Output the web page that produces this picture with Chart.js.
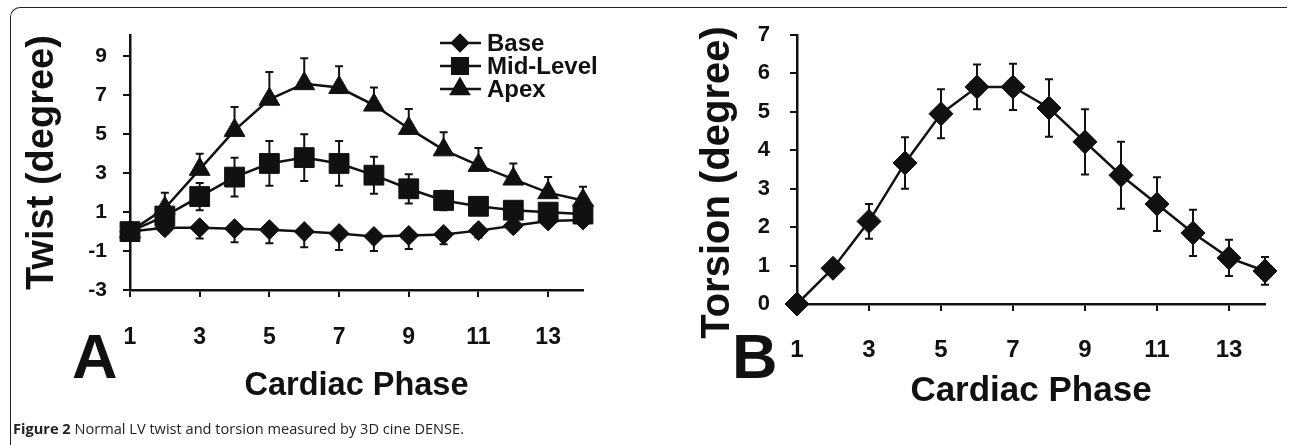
<!DOCTYPE html>
<html>
<head>
<meta charset="utf-8">
<script src="https://cdn.jsdelivr.net/npm/chart.js@4"></script>
<style>
  body { margin: 0; background: #fff; }
  #page { position: relative; width: 1290px; height: 445px; overflow: hidden; background: #fff; }
  .frame { position: absolute; left: 10px; top: 7px; width: 1276px; height: 460px;
           border-top: 1.5px solid #222; border-left: 1.5px solid #222; border-top-left-radius: 10px; }
  .panel { position: absolute; top: 0; width: 640px; height: 420px; }
  .letter { position: absolute; font: bold 63px "Liberation Sans", Arial, sans-serif; line-height: 1; color: #111; }
  .caption { position: absolute; left: 13px; top: 418px; font: 14.6px "Open Sans", sans-serif; color: #222; white-space: nowrap; }
</style>
</head>
<body>
<div id="page">
  <div class="frame"></div>
  <div class="panel" style="left:0"><canvas id="twistChart" width="640" height="420"></canvas></div>
  <div class="panel" style="left:650px"><canvas id="torsionChart" width="640" height="420"></canvas></div>
  <div class="letter" style="left:72px;top:325px">A</div>
  <div class="letter" style="left:732px;top:325px">B</div>
  <div class="caption"><b>Figure 2</b> Normal LV twist and torsion measured by 3D cine DENSE.</div>
</div>
<script>
// cardiac phases 1..14
const phases = [1, 2, 3, 4, 5, 6, 7, 8, 9, 10, 11, 12, 13, 14];
const phaseTicks = [1, 3, 5, 7, 9, 11, 13];
const twistTicks = [-3, -1, 1, 3, 5, 7, 9];
const torsionTicks = [0, 1, 2, 3, 4, 5, 6, 7];

// panel A - twist (degree)
const baseTwist = [0, 0.2, 0.2, 0.15, 0.1, 0, -0.1, -0.25, -0.2, -0.15, 0.05, 0.3, 0.55, 0.6];
const baseSD = [0, 0.3, 0.55, 0.7, 0.7, 0.8, 0.85, 0.75, 0.7, 0.5, 0.35, 0.3, 0.3, 0.3];
const midTwist = [0, 0.8, 1.8, 2.8, 3.5, 3.8, 3.5, 2.9, 2.2, 1.6, 1.3, 1.1, 1.0, 0.9];
const midSD = [0, 0.5, 0.7, 1.0, 1.15, 1.2, 1.15, 0.95, 0.75, 0.5, 0.4, 0.35, 0.3, 0.3];
const apexTwist = [0, 1.2, 3.2, 5.2, 6.8, 7.6, 7.4, 6.5, 5.3, 4.2, 3.4, 2.7, 2.0, 1.6];
const apexSD = [0, 0.8, 0.8, 1.2, 1.4, 1.3, 1.1, 0.9, 1.0, 0.9, 0.9, 0.8, 0.8, 0.7];

// panel B - torsion (degree)
const torsion = [0, 0.93, 2.15, 3.67, 4.95, 5.65, 5.65, 5.1, 4.22, 3.35, 2.6, 1.85, 1.2, 0.86];
const torsionSD = [0, 0.15, 0.45, 0.67, 0.64, 0.58, 0.6, 0.75, 0.85, 0.87, 0.7, 0.6, 0.47, 0.36];
const torsionTitle = 'Torsion (degree)';

const ink = '#111';
Chart.defaults.font.family = '"Liberation Sans", Arial, sans-serif';
Chart.defaults.font.weight = 'bold';
Chart.defaults.color = ink;

function toXY(vals) {
    return vals.map((v, i) => ({ x: phases[i], y: v }));
}

// error bars: up / down arrays per dataset
const errorBars = {
    id: 'errorBars',
    beforeDatasetsDraw(chart) {
        const ctx = chart.ctx;
        const yScale = chart.scales.y;
        ctx.save();
        ctx.strokeStyle = ink;
        ctx.lineWidth = 2;
        chart.data.datasets.forEach((ds, di) => {
            const meta = chart.getDatasetMeta(di);
            meta.data.forEach((pt, j) => {
                const v = ds.data[j].y;
                const up = ds.errUp ? ds.errUp[j] : 0;
                const dn = ds.errDown ? ds.errDown[j] : 0;
                if (!up && !dn) return;
                const yt = yScale.getPixelForValue(v + up);
                const yb = yScale.getPixelForValue(v - dn);
                ctx.beginPath();
                ctx.moveTo(pt.x, yt);
                ctx.lineTo(pt.x, yb);
                if (up) { ctx.moveTo(pt.x - 4, yt); ctx.lineTo(pt.x + 4, yt); }
                if (dn) { ctx.moveTo(pt.x - 4, yb); ctx.lineTo(pt.x + 4, yb); }
                ctx.stroke();
            });
        });
        ctx.restore();
    }
};

// legend drawn inside panel A
const twistLegend = {
    id: 'twistLegend',
    afterDraw(chart) {
        const ctx = chart.ctx;
        const rows = [
            { label: 'Base', style: 'rectRot', r: 8, y: 43 },
            { label: 'Mid-Level', style: 'rect', r: 11, y: 66 },
            { label: 'Apex', style: 'triangle', r: 10, y: 89 }
        ];
        ctx.save();
        ctx.font = 'bold 24px "Liberation Sans", Arial, sans-serif';
        ctx.textBaseline = 'middle';
        ctx.fillStyle = ink;
        ctx.strokeStyle = ink;
        rows.forEach(r => {
            ctx.lineWidth = 2.5;
            ctx.beginPath();
            ctx.moveTo(440, r.y);
            ctx.lineTo(481, r.y);
            ctx.stroke();
            Chart.helpers.drawPoint(ctx, { pointStyle: r.style, radius: r.r, borderWidth: 1 }, 460, r.y);
            ctx.fill();
            ctx.fillText(r.label, 487, r.y + 1);
        });
        ctx.restore();
    }
};

// y title of panel B sits a bit below the axis centre in the original
const torsionYTitle = {
    id: 'torsionYTitle',
    afterDraw(chart) {
        const ctx = chart.ctx;
        const yScale = chart.scales.y;
        ctx.save();
        ctx.translate(68, (yScale.top + yScale.bottom) / 2 + 13);
        ctx.rotate(-Math.PI / 2);
        ctx.font = 'bold 40px "Liberation Sans", Arial, sans-serif';
        ctx.textAlign = 'center';
        ctx.textBaseline = 'middle';
        ctx.fillStyle = ink;
        ctx.fillText(torsionTitle, 0, 0);
        ctx.restore();
    }
};

function axisGrid() {
    return { drawOnChartArea: false, drawTicks: true, tickLength: 7, color: ink, lineWidth: 2 };
}

function series(label, vals, style, radius, up, down) {
    return {
        label: label,
        data: toXY(vals),
        borderColor: ink,
        backgroundColor: ink,
        borderWidth: 2.5,
        pointStyle: style,
        pointRadius: radius,
        pointHoverRadius: radius,
        pointBackgroundColor: ink,
        pointBorderColor: ink,
        pointBorderWidth: 1,
        tension: 0,
        clip: false,
        errUp: up,
        errDown: down
    };
}

new Chart(document.getElementById('twistChart'), {
    type: 'line',
    data: {
        datasets: [
            series('Base', baseTwist, 'rectRot', 10, null, baseSD),
            series('Mid-Level', midTwist, 'rect', 14, midSD, midSD),
            series('Apex', apexTwist, 'triangle', 12, apexSD, null)
        ]
    },
    options: {
        responsive: false,
        animation: false,
        layout: { padding: { left: 10, top: 35, right: 57, bottom: 0 } },
        plugins: { legend: { display: false }, tooltip: { enabled: false } },
        scales: {
            x: {
                type: 'linear', min: 1, max: 14,
                afterBuildTicks: s => { s.ticks = phaseTicks.map(v => ({ value: v })); },
                afterFit: s => { s.height = 130; },
                grid: axisGrid(),
                border: { display: true, color: ink, width: 2.5 },
                ticks: { font: { size: 23, weight: 'bold' }, padding: 27, maxRotation: 0 },
                title: { display: true, text: 'Cardiac Phase', font: { size: 32.5, weight: 'bold' }, padding: { bottom: 14 } }
            },
            y: {
                type: 'linear', min: -3, max: 10.1,
                afterBuildTicks: s => { s.ticks = twistTicks.map(v => ({ value: v })); },
                afterFit: s => { s.width = 120; },
                grid: axisGrid(),
                border: { display: true, color: ink, width: 2.5 },
                ticks: { font: { size: 21, weight: 'bold' }, padding: 16 },
                title: { display: true, text: 'Twist (degree)', font: { size: 38, weight: 'bold' }, padding: { top: 10 } }
            }
        }
    },
    plugins: [errorBars, twistLegend]
});

new Chart(document.getElementById('torsionChart'), {
    type: 'line',
    data: {
        datasets: [
            series('Torsion', torsion, 'rectRot', 12, torsionSD, torsionSD)
        ]
    },
    options: {
        responsive: false,
        animation: false,
        layout: { padding: { left: 10, top: 35, right: 25, bottom: 0 } },
        plugins: { legend: { display: false }, tooltip: { enabled: false } },
        scales: {
            x: {
                type: 'linear', min: 1, max: 14,
                afterBuildTicks: s => { s.ticks = phaseTicks.map(v => ({ value: v })); },
                afterFit: s => { s.height = 116; },
                grid: axisGrid(),
                border: { display: true, color: ink, width: 2.5 },
                ticks: { font: { size: 24, weight: 'bold' }, padding: 25, maxRotation: 0 },
                title: { display: true, text: 'Cardiac Phase', font: { size: 35, weight: 'bold' }, padding: { bottom: 8 } }
            },
            y: {
                type: 'linear', min: 0, max: 7,
                afterBuildTicks: s => { s.ticks = torsionTicks.map(v => ({ value: v })); },
                afterFit: s => { s.width = 137; },
                grid: axisGrid(),
                border: { display: true, color: ink, width: 2.5 },
                ticks: { font: { size: 22, weight: 'bold' }, padding: 20 },
                title: { display: false }
            }
        }
    },
    plugins: [errorBars, torsionYTitle]
});
</script>
</body>
</html>
